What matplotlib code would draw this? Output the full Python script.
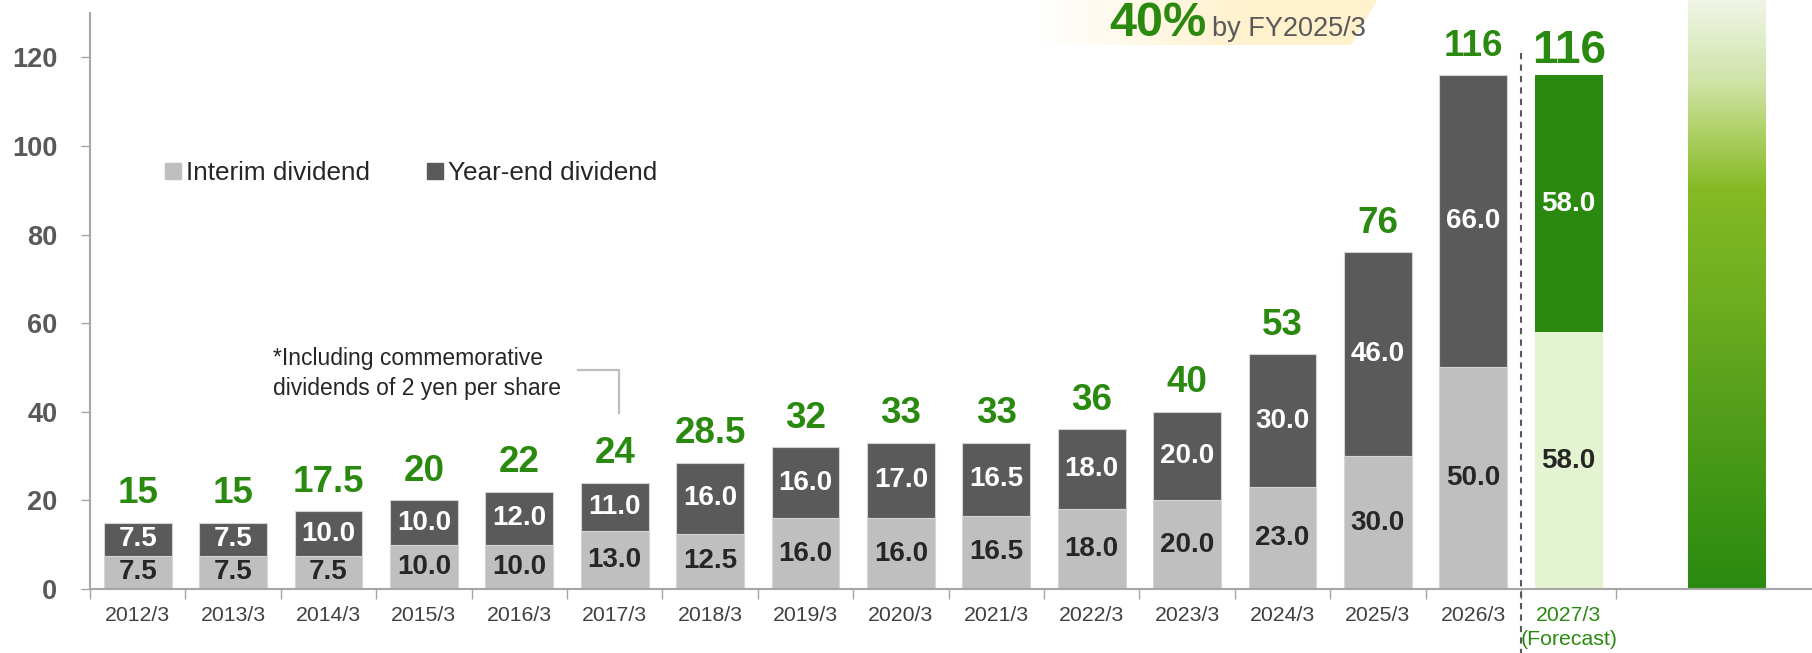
import numpy as np
import matplotlib
matplotlib.use("Agg")
import matplotlib.pyplot as plt
from matplotlib.patches import Patch, Polygon
from matplotlib.colors import LinearSegmentedColormap, to_rgb

plt.rcParams['font.family'] = ['Liberation Sans', 'DejaVu Sans']

# data
years = ['2012/3', '2013/3', '2014/3', '2015/3', '2016/3', '2017/3', '2018/3', '2019/3',
         '2020/3', '2021/3', '2022/3', '2023/3', '2024/3', '2025/3', '2026/3', '2027/3\n(Forecast)']
interim = [7.5, 7.5, 7.5, 10.0, 10.0, 13.0, 12.5, 16.0, 16.0, 16.5, 18.0, 20.0, 23.0, 30.0, 50.0, 58.0]
year_end = [7.5, 7.5, 10.0, 10.0, 12.0, 11.0, 16.0, 16.0, 17.0, 16.5, 18.0, 20.0, 30.0, 46.0, 66.0, 58.0]
totals = ['15', '15', '17.5', '20', '22', '24', '28.5', '32', '33', '33', '36', '40', '53', '76', '116', '116']

GREEN = '#2A8A10'
LIGHT_GREY = '#BFBFBF'
DARK_GREY = '#5A5A5A'

fig = plt.figure(figsize=(18.12, 6.53), dpi=100)
ax = fig.add_axes([90 / 1812, 64 / 653, 1 - 90 / 1812, 576 / 653])

n = len(years)
x = np.arange(n)
fc = n - 1  # forecast index

c_int = [LIGHT_GREY] * (n - 1) + ['#E4F4D0']
c_ye = [DARK_GREY] * (n - 1) + [GREEN]
ec = ['#D4D4D4'] * (n - 1) + ['none']

w = 0.71
ax.bar(x, interim, w, color=c_int, edgecolor=ec, linewidth=0.8, zorder=2)
ax.bar(x, year_end, w, bottom=interim, color=c_ye, edgecolor=ec, linewidth=0.8, zorder=2)

for i in range(n):
    ax.text(x[i], interim[i] / 2, f"{interim[i]:.1f}", ha='center', va='center',
            fontsize=20, fontweight='bold', color='#262626', zorder=3)
    ax.text(x[i], interim[i] + year_end[i] / 2, f"{year_end[i]:.1f}", ha='center', va='center',
            fontsize=20, fontweight='bold', color='white', zorder=3)
    top = interim[i] + year_end[i]
    big = i == fc
    ax.annotate(totals[i], (x[i], top), xytext=(0, 9 if big else 14), textcoords='offset points',
                ha='center', va='baseline', fontsize=33 if big else 26.5,
                fontweight='bold', color=GREEN)

# gradient arrow body on the right
cmap = LinearSegmentedColormap.from_list('g', [
    (0.0, '#2A8A10'), (0.29, '#529E1A'), (0.50, '#6FAE20'), (0.68, '#85BA25'),
    (0.79, '#B4D470'), (0.86, '#CFE3A6'), (1.0, '#F0F5E6')])
grad = np.linspace(1, 0, 256).reshape(-1, 1)
ax.imshow(grad, cmap=cmap, extent=[16.255, 17.065, 0, 133], aspect='auto',
          clip_on=False, zorder=1, interpolation='bilinear')

# forecast separator
ax.plot([14.5, 14.5], [121, -14.5], ls=(0, (3, 2.5)), color='#595959', lw=1.5,
        clip_on=False, zorder=4)

# commemorative note
ax.text(1.42, 48.6, "*Including commemorative\ndividends of 2 yen per share", ha='left', va='center',
        fontsize=16.5, color='#262626', linespacing=1.4)
ax.plot([4.615, 5.04, 5.04], [49.4, 49.4, 39.7], color='#BFBFBF', lw=1.6)

ax.set_xlim(-0.5, 17.55)
ax.set_ylim(0, 130)

ax.set_yticks(range(0, 121, 20))
ax.tick_params(axis='y', length=6.5, width=1, color='#A6A6A6', pad=17,
               labelsize=19.5, labelcolor='#595959')
for t in ax.get_yticklabels():
    t.set_fontweight('bold')

ax.set_xticks(x)
ax.set_xticklabels(years)
ax.set_xticks(np.arange(-0.5, n, 1.0), minor=True)
ax.tick_params(axis='x', which='major', length=0, pad=12, labelsize=15.3, labelcolor='#404040')
ax.tick_params(axis='x', which='minor', length=7, width=1, color='#A6A6A6')
lbl = ax.get_xticklabels()[fc]
lbl.set_color(GREEN)
lbl.set_linespacing(1.35)

for s in ['top', 'right']:
    ax.spines[s].set_visible(False)
for s in ['left', 'bottom']:
    ax.spines[s].set_color('#A6A6A6')
    ax.spines[s].set_linewidth(1.5)

handles = [Patch(color=LIGHT_GREY, label='Interim dividend'),
           Patch(color=DARK_GREY, label='Year-end dividend')]
ax.legend(handles=handles, loc='center left', bbox_to_anchor=(0.0436, 0.722), ncol=2,
          frameon=False, fontsize=18.8, handlelength=0.6, handleheight=0.6,
          handletextpad=0.2, columnspacing=2.2, borderpad=0, borderaxespad=0,
          labelcolor='#262626')

# cut-off callout at the top
cax = fig.add_axes([1040 / 1812, 1 - 45 / 653, 340 / 1812, 45 / 653])
cax.set_axis_off()
cax.set_xlim(0, 340)
cax.set_ylim(45, 0)
cream = np.array(to_rgb('#FFF1CC'))
fade = np.clip(np.linspace(0, 1.6, 340), 0, 1)
img = np.ones((1, 340, 3)) * (1 - fade)[None, :, None] + cream[None, None, :] * fade[None, :, None]
im = cax.imshow(img, extent=[0, 340, 45, 0], aspect='auto')
poly = Polygon([(0, 0), (337, 0), (311, 45), (0, 45)], transform=cax.transData, facecolor='none',
               edgecolor='none')
cax.add_patch(poly)
im.set_clip_path(poly)

fig.text(1109 / 1812, 1 - 36 / 653, '40%', fontsize=35, fontweight='bold', color=GREEN,
         ha='left', va='baseline')
fig.text(1212 / 1812, 1 - 36 / 653, 'by FY2025/3', fontsize=19.5, color='#595959',
         ha='left', va='baseline')

fig.savefig('out.png', dpi=100)
